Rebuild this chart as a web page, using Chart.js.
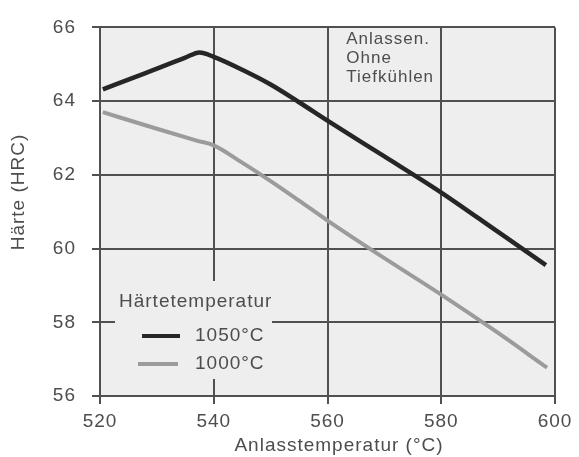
<!DOCTYPE html>
<html>
<head>
<meta charset="utf-8">
<script src="https://cdn.jsdelivr.net/npm/chart.js@4"></script>
<style>
  html, body { margin: 0; padding: 0; background: #fff; }
  #wrap { width: 579px; height: 457px; }
</style>
</head>
<body>
<div id="wrap"><canvas id="chart" width="579" height="457"></canvas></div>
<script>
// Data
const temp1050 = [520.5, 528, 535, 537.5, 540, 545, 550, 555, 560, 570, 580, 590, 598.4];
const hard1050 = [64.32, 64.76, 65.18, 65.32, 65.2, 64.85, 64.45, 63.97, 63.47, 62.5, 61.52, 60.45, 59.55];
const temp1000 = [520.5, 530, 537, 540, 545, 550, 555, 560, 570, 580, 590, 598.6];
const hard1000 = [63.7, 63.25, 62.93, 62.8, 62.33, 61.83, 61.3, 60.76, 59.74, 58.75, 57.71, 56.77];
const xTicks = [520, 540, 560, 580, 600];
const yTicks = [56, 58, 60, 62, 64, 66];

const seriesLabels = ['1050°C', '1000°C'];
const legendTitle = 'Härtetemperatur';
const noteLines = ['Anlassen.', 'Ohne', 'Tiefkühlen'];
const xTitle = 'Anlasstemperatur (°C)';
const yTitle = 'Härte (HRC)';

const FONT = '"Liberation Sans", Arial, sans-serif';
const PLOT_BG = '#eeeeee';
const GRID = '#505050';
const TEXT = '#4d4d4d';

function toPoints(xs, ys) {
  return xs.map((x, i) => ({ x, y: ys[i] }));
}

// Plot background, note, legend and axis titles
const decorPlugin = {
  id: 'decor',
  beforeDraw(chart) {
    const { ctx, chartArea } = chart;
    ctx.letterSpacing = '1px';
    ctx.save();
    ctx.fillStyle = PLOT_BG;
    ctx.fillRect(chartArea.left, chartArea.top, chartArea.right - chartArea.left, chartArea.bottom - chartArea.top);
    ctx.restore();
  },
  beforeDatasetsDraw(chart) {
    const { ctx, chartArea } = chart;
    const x = chart.scales.x;

    // legend box hides the grid behind it
    const lx = chartArea.left + 15;
    const ly = 281;
    ctx.save();
    ctx.fillStyle = PLOT_BG;
    ctx.fillRect(lx, ly, 157, 98);

    ctx.fillStyle = TEXT;
    ctx.font = '19px ' + FONT;
    ctx.textBaseline = 'middle';
    ctx.textAlign = 'left';
    ctx.fillText(legendTitle, lx + 4, ly + 21);

    chart.data.datasets.forEach((ds, i) => {
      const rowY = ly + 55 + i * 28;
      ctx.strokeStyle = ds.borderColor;
      ctx.lineWidth = 4;
      ctx.beginPath();
      ctx.moveTo(lx + 27 - i * 4, rowY);
      ctx.lineTo(lx + 65 - i * 2, rowY);
      ctx.stroke();
      ctx.fillStyle = TEXT;
      ctx.fillText(ds.label, lx + 80, rowY);
    });

    // note in the top middle cell
    ctx.font = '17px ' + FONT;
    noteLines.forEach((line, i) => {
      ctx.fillText(line, x.getPixelForValue(563.3), 39 + i * 19);
    });

    // axis titles
    ctx.font = '19px ' + FONT;
    ctx.textAlign = 'center';
    ctx.fillText(xTitle, 339, 446);
    ctx.save();
    ctx.translate(19, 192);
    ctx.rotate(-Math.PI / 2);
    ctx.fillText(yTitle, 0, 0);
    ctx.restore();
    ctx.restore();
  }
};

const ctx = document.getElementById('chart').getContext('2d');
new Chart(ctx, {
  type: 'line',
  data: {
    datasets: [
      {
        label: seriesLabels[0],
        data: toPoints(temp1050, hard1050),
        borderColor: '#262626',
        borderWidth: 4.5,
        pointRadius: 0,
        cubicInterpolationMode: 'monotone'
      },
      {
        label: seriesLabels[1],
        data: toPoints(temp1000, hard1000),
        borderColor: '#9b9b9b',
        borderWidth: 4,
        pointRadius: 0,
        cubicInterpolationMode: 'monotone'
      }
    ]
  },
  options: {
    responsive: false,
    animation: false,
    devicePixelRatio: 1,
    layout: { padding: { top: 20, right: 24, left: 0, bottom: 0 } },
    plugins: {
      legend: { display: false },
      tooltip: { enabled: false }
    },
    scales: {
      x: {
        type: 'linear',
        min: 520,
        max: 600,
        afterFit(scale) { scale.height = 61; },
        afterBuildTicks(scale) { scale.ticks = xTicks.map(v => ({ value: v })); },
        ticks: {
          color: TEXT,
          font: { family: FONT, size: 19 },
          padding: 6,
          maxRotation: 0
        },
        grid: { color: GRID, lineWidth: 2, tickLength: 8, drawTicks: true },
        border: { color: GRID, width: 2 }
      },
      y: {
        type: 'linear',
        min: 56,
        max: 66,
        afterFit(scale) { scale.width = 100; },
        afterBuildTicks(scale) { scale.ticks = yTicks.map(v => ({ value: v })); },
        ticks: {
          color: TEXT,
          font: { family: FONT, size: 19 },
          padding: 16
        },
        grid: { color: GRID, lineWidth: 2, tickLength: 8, drawTicks: true },
        border: { color: GRID, width: 2 }
      }
    }
  },
  plugins: [decorPlugin]
});
</script>
</body>
</html>
